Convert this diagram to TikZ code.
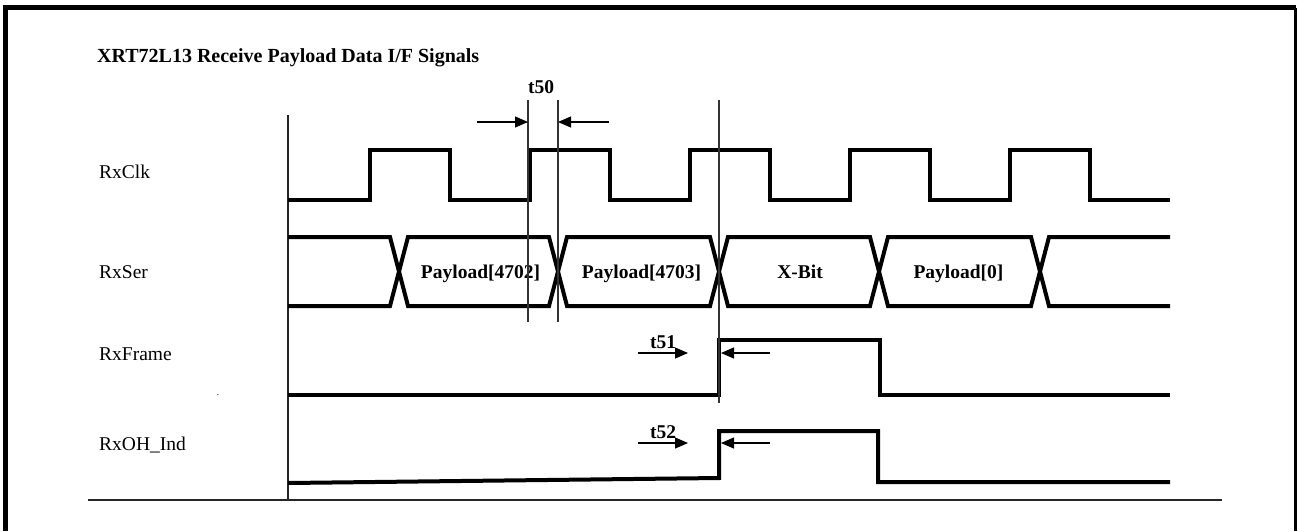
\documentclass[tikz,border=0pt]{standalone}
\usepackage{fontspec}
\setmainfont{Liberation Serif}
\usetikzlibrary{arrows.meta, calc, positioning}
\tikzset{
  frameline/.style = {line width=5pt, black},
  sigline/.style   = {line width=4pt, black},
  axisline/.style  = {line width=1.6pt, black!85},
  markline/.style  = {line width=1.1pt, black!80},
  timearrow/.style = {-{Triangle[length=13pt, width=11pt]}, line width=1.1pt},
  lbl/.style       = {font=\fontsize{19.5}{23}\selectfont, anchor=base west, inner sep=0pt},
  blbl/.style      = {font=\fontsize{19.5}{23}\selectfont\bfseries, anchor=base, inner sep=0pt},
  ttl/.style       = {font=\fontsize{20}{24}\selectfont\bfseries, anchor=base west, inner sep=0pt},
}
\begin{document}
\begin{tikzpicture}[x=1pt,y=-1pt]
  \useasboundingbox (0,0) rectangle (1298,531);
  % outer frame (open at the bottom)
  \draw[frameline] (5.5,531) -- (5.5,7.5) -- (1296,7.5);
  \draw[line width=3pt] (1295.5,7.5) -- (1295.5,531);
  \node[ttl] (title) at (97,62) {XRT72L13 Receive Payload Data I/F Signals};
  % time axis and base line
  \coordinate (axtop) at (288,115); \coordinate (axbot) at (288,500);
  \draw[axisline] (axtop) -- (axbot);
  \draw[axisline] (88,500) -- (1222,500);
  % signal names
  \node[lbl] (lclk)   at (99,178) {RxClk};
  \node[lbl] (lser)   at (99,278) {RxSer};
  \node[lbl] (lframe) at (99,360) {RxFrame};
  \node[lbl] (lohind) at (99,450) {RxOH\_Ind};
  \node[font=\fontsize{9}{10}\selectfont, anchor=base, inner sep=0pt] (dot) at (218,395) {.};
  % RxClk
  \draw[sigline] (288,200) \foreach \x in {370,530,690,850,1010} {
      -- (\x,200) -- (\x,150) -- (\x+80,150) -- (\x+80,200) } -- (1170,200);
  % RxSer
  \draw[sigline] (288,237) -- (390,237) -- (399,271.5) -- (390,306) -- (288,306);
  \foreach \a/\b/\txt/\dx in {399/558/{Payload[4702]}/2, 558/719/{Payload[4703]}/3,
                             719/879/{X-Bit}/1, 879/1040/{Payload[0]}/-1} {
    \draw[sigline] (\a,271.5) -- (\a+9,237) -- (\b-9,237) -- (\b,271.5)
                   -- (\b-9,306) -- (\a+9,306) -- cycle;
    \node[blbl] at ({(\a+\b)/2+\dx},278) {\txt};
  }
  \draw[sigline] (1170,237) -- (1049,237) -- (1040,271.5) -- (1049,306) -- (1170,306);
  % RxFrame and RxOH_Ind
  \draw[sigline] (288,395) -- (719,395) -- (719,340) -- (880,340) -- (880,395) -- (1170,395);
  \draw[sigline] (288,483) -- (719,478) -- (719,431) -- (878,431) -- (878,482) -- (1170,482);
  % timing markers
  \coordinate (m1) at (528,100); \coordinate (m2) at (558,100); \coordinate (m3) at (719,100);
  \draw[markline] (m1) -- ++(0,222);
  \draw[markline] (m2) -- ++(0,222);
  \draw[markline] (m3) -- ++(0,303);
  % t50
  \coordinate (a1) at (477,122); \coordinate (a2) at (528,122);
  \coordinate (a3) at (609,122); \coordinate (a4) at (558,122);
  \draw[timearrow] (a1) -- (a2);
  \draw[timearrow] (a3) -- (a4);
  \node[blbl] (t50) at (541,93) {t50};
  % t51
  \coordinate (b1) at (638,353); \coordinate (b2) at (688,353);
  \coordinate (b3) at (770,353); \coordinate (b4) at (721,353);
  \draw[timearrow] (b1) -- (b2);
  \draw[timearrow] (b3) -- (b4);
  \node[blbl] (t51) at (663,348) {t51};
  % t52
  \coordinate (c1) at (638,443); \coordinate (c2) at (688,443);
  \coordinate (c3) at (770,443); \coordinate (c4) at (721,443);
  \draw[timearrow] (c1) -- (c2);
  \draw[timearrow] (c3) -- (c4);
  \node[blbl] (t52) at (663,438) {t52};
\end{tikzpicture}
\end{document}
